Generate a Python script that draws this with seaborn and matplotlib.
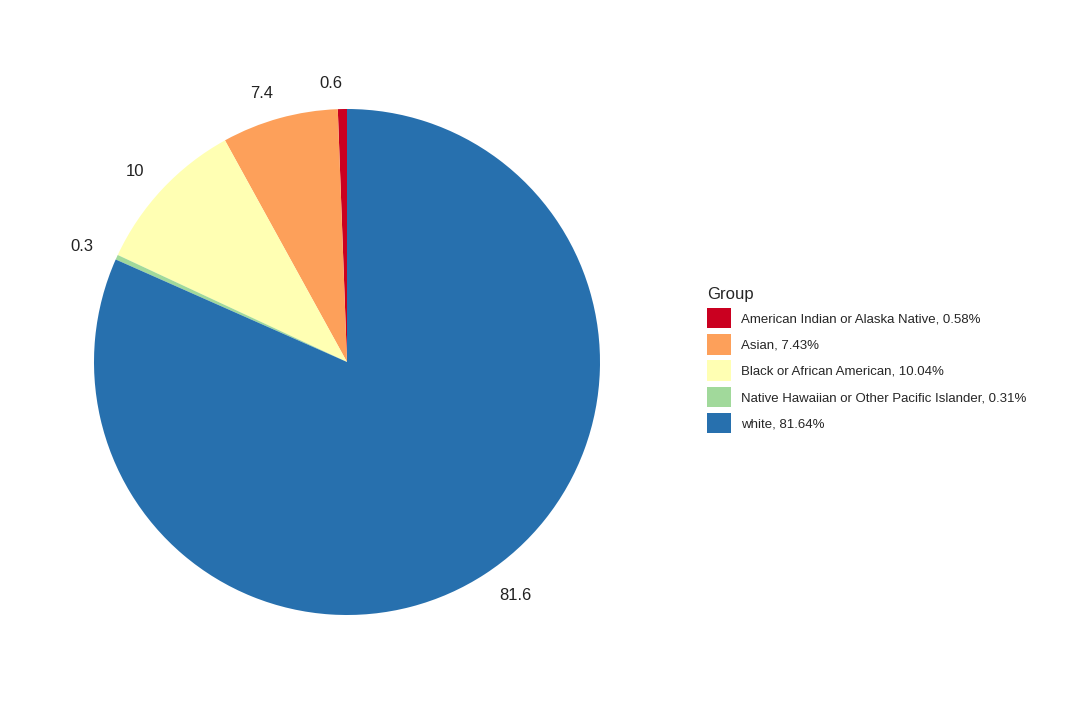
import matplotlib
matplotlib.use("Agg")
import matplotlib.pyplot as plt
import seaborn as sns
from matplotlib.patches import Patch

sns.set_theme(style="white")
plt.rcParams['font.family'] = ['Liberation Sans', 'DejaVu Sans']

groups = ["American Indian or Alaska Native", "Asian", "Black or African American",
          "Native Hawaiian or Other Pacific Islander", "white"]
values = [0.58, 7.43, 10.04, 0.31, 81.64]
labels = ["0.6", "7.4", "10", "0.3", "81.6"]
colors = ["#CA0020", "#FDA05A", "#FFFFB3", "#A1D99B", "#2770AE"]

fig = plt.figure(figsize=(10.73, 7.27), dpi=100)
ax = fig.add_axes([347/1073 - 253/1073, 1 - (362+253)/727, 506/1073, 506/727])
ax.pie(values, colors=colors, startangle=90, counterclock=True, labels=labels,
       labeldistance=1.1, textprops=dict(fontsize=12, color="#222222"),
       wedgeprops=dict(linewidth=0))
ax.set_xlim(-1, 1)
ax.set_ylim(-1, 1)
ax.set_aspect("equal")
ax.axis("off")

handles = [Patch(facecolor=c, edgecolor="none") for c in colors]
leg_labels = [f"{g}, {v:.2f}%" for g, v in zip(groups, values)]
fig.legend(handles, leg_labels, title="Group", loc="upper left",
           bbox_to_anchor=(695/1073, 1 - 275/727), frameon=False,
           fontsize=9.5, title_fontsize=12, handlelength=1.8, handleheight=2.0,
           labelspacing=0.45, alignment="left")
fig.savefig("out.png", dpi=100, facecolor="white")
